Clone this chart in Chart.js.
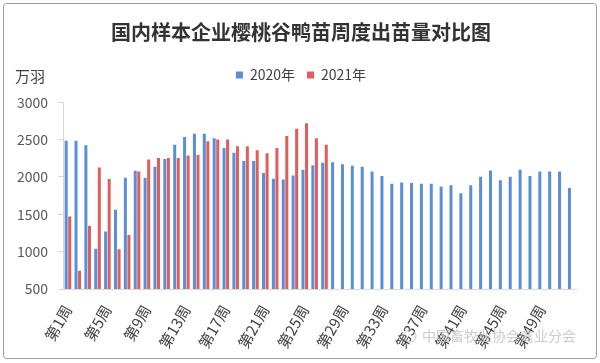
<!DOCTYPE html>
<html>
<head>
<meta charset="utf-8">
<script src="https://cdn.jsdelivr.net/npm/chart.js@4"></script>
<style>
  html, body { margin: 0; padding: 0; background: #fff; }
  #wrap { width: 600px; height: 363px; position: relative; }
</style>
</head>
<body>
<div id="wrap"><canvas id="duckChart"></canvas></div>
<script>
// 周次
const weeks = [
    '第1周','第2周','第3周','第4周','第5周','第6周','第7周','第8周','第9周','第10周',
    '第11周','第12周','第13周','第14周','第15周','第16周','第17周','第18周','第19周','第20周',
    '第21周','第22周','第23周','第24周','第25周','第26周','第27周','第28周','第29周','第30周',
    '第31周','第32周','第33周','第34周','第35周','第36周','第37周','第38周','第39周','第40周',
    '第41周','第42周','第43周','第44周','第45周','第46周','第47周','第48周','第49周','第50周',
    '第51周','第52周'
];

// 2020年 出苗量 (万羽)
const out2020 = [
    2485, 2485, 2423, 1040, 1271, 1559, 1989, 2082, 1989, 2135,
    2241, 2431, 2533, 2578, 2578, 2516, 2387, 2325, 2214, 2214,
    2051, 1975, 1966, 2019, 2095, 2157, 2188, 2195, 2170, 2148,
    2135, 2073, 2011, 1909, 1926, 1918, 1909, 1909, 1873, 1887,
    1780, 1887, 2002, 2086, 1957, 2002, 2095, 2011, 2073, 2073,
    2073, 1851
];

// 2021年 出苗量 (万羽)
const out2021 = [
    1470, 744, 1346, 2126, 1971, 1032, 1222, 2073, 2232, 2254,
    2254, 2254, 2285, 2294, 2476, 2502, 2502, 2409, 2409, 2356,
    2316, 2387, 2547, 2644, 2719, 2516, 2431
];

const seriesNames = ['2020年', '2021年'];
const yTicks = { min: 500, max: 3000, step: 500 };

const CJK = "'Noto Sans CJK SC', 'Noto Sans', sans-serif";

// 外框, 单位, 水印
const extras = {
    id: 'extras',
    beforeDraw(chart) {
        const ctx = chart.ctx;
        ctx.save();
        ctx.fillStyle = '#fff';
        ctx.fillRect(0, 0, chart.width, chart.height);
        ctx.strokeStyle = '#9c9c9c';
        ctx.lineWidth = 1;
        ctx.beginPath();
        ctx.roundRect(3.5, 3.5, 593, 355, 3);
        ctx.stroke();
        ctx.restore();
    },
    afterDraw(chart) {
        const ctx = chart.ctx;
        ctx.save();
        ctx.fillStyle = '#404040';
        ctx.font = '15px ' + CJK;
        ctx.textBaseline = 'middle';
        ctx.fillText('万羽', 15, 76);
        // 水印
        ctx.fillStyle = 'rgba(190,190,190,0.8)';
        ctx.font = '14px ' + CJK;
        ctx.fillText('中国畜牧业协会禽业分会', 422, 336);
        ctx.strokeStyle = 'rgba(190,190,190,0.8)';
        ctx.beginPath();
        ctx.arc(410, 336, 6, 0, Math.PI * 2);
        ctx.stroke();
        ctx.restore();
    }
};

const ctx = document.getElementById('duckChart').getContext('2d');
const myChart = new Chart(ctx, {
    type: 'bar',
    data: {
        labels: weeks,
        datasets: [{
            label: seriesNames[0],
            data: out2020,
            backgroundColor: '#5a8fd8'
        }, {
            label: seriesNames[1],
            data: out2021,
            backgroundColor: '#df5e5b'
        }]
    },
    options: {
        responsive: true,
        maintainAspectRatio: false,
        animation: false,
        layout: { padding: { left: 2, right: 0, top: 10, bottom: 0 } },
        datasets: { bar: { categoryPercentage: 0.72, barPercentage: 0.85 } },
        plugins: {
            title: {
                display: true,
                text: '国内样本企业樱桃谷鸭苗周度出苗量对比图',
                color: '#333',
                font: { size: 20, weight: 'bold', family: CJK },
                padding: { top: 10, bottom: 12 }
            },
            // 图例与绘图区之间的空白
            subtitle: {
                display: true,
                text: ' ',
                weight: 500,
                font: { size: 1 },
                padding: { top: 9, bottom: 0 }
            },
            legend: {
                display: true,
                labels: {
                    boxWidth: 7,
                    boxHeight: 7,
                    color: '#404040',
                    font: { size: 14, family: CJK },
                    padding: 12
                }
            },
            tooltip: { enabled: false }
        },
        scales: {
            x: {
                grid: { drawOnChartArea: false, drawTicks: false },
                border: { color: '#d9d9d9' },
                ticks: {
                    autoSkip: false,
                    minRotation: 60,
                    maxRotation: 60,
                    padding: 13,
                    color: '#404040',
                    font: { size: 15, family: CJK },
                    callback: function(val, idx) {
                        return idx % 4 === 0 ? this.getLabelForValue(val) : '';
                    }
                },
                afterFit(scale) { scale.height = 74; }
            },
            y: {
                min: yTicks.min,
                max: yTicks.max,
                grid: { drawOnChartArea: false, tickLength: 5, tickColor: '#d9d9d9' },
                border: { color: '#d9d9d9' },
                ticks: {
                    stepSize: yTicks.step,
                    padding: 10,
                    color: '#595959',
                    font: { size: 14, family: CJK },
                    callback: v => String(v)
                },
                afterFit(scale) { scale.width = 61; }
            },
            // 右侧留白
            yRight: {
                position: 'right',
                min: yTicks.min,
                max: yTicks.max,
                grid: { display: false },
                border: { display: false },
                ticks: { display: false },
                afterFit(scale) { scale.width = 22; }
            }
        }
    },
    plugins: [extras]
});
</script>
</body>
</html>
